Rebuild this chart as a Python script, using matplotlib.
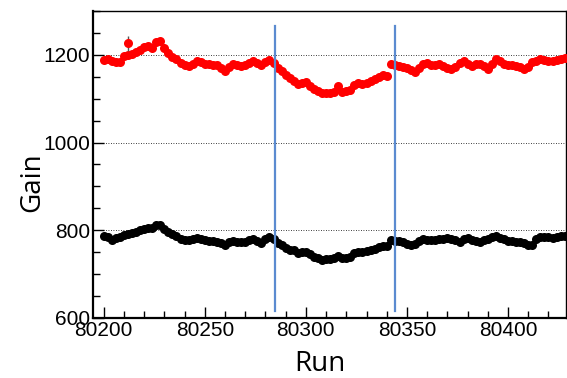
import numpy as np
import matplotlib
matplotlib.use("Agg")
import matplotlib.pyplot as plt
from matplotlib.ticker import MultipleLocator

runs = np.arange(80200, 80430, 2)

gain_red = [
    1188, 1190, 1185, 1184, 1183, 1197, 1199, 1202, 1207, 1212,
    1218, 1219, 1216, 1230, 1232, 1215, 1205, 1196, 1190, 1182,
    1176, 1175, 1178, 1186, 1184, 1180, 1178, 1177, 1176, 1170,
    1162, 1172, 1178, 1177, 1174, 1176, 1181, 1185, 1182, 1176,
    1184, 1189, 1182, 1170, 1163, 1153, 1147, 1140, 1133, 1136,
    1137, 1130, 1122, 1118, 1114, 1112, 1114, 1116, 1130, 1116,
    1117, 1120, 1132, 1135, 1134, 1136, 1140, 1144, 1150, 1154,
    1152, 1179, 1176, 1175, 1172, 1169, 1165, 1161, 1170, 1180,
    1181, 1176, 1176, 1178, 1175, 1170, 1167, 1172, 1182, 1187,
    1179, 1174, 1178, 1180, 1175, 1168, 1180, 1191, 1186, 1179,
    1177, 1176, 1174, 1173, 1168, 1172, 1184, 1187, 1190, 1189,
    1186, 1185, 1188, 1190, 1192,
]

gain_black = [
    786, 784, 778, 782, 785, 788, 791, 793, 797, 800,
    803, 806, 805, 812, 813, 803, 797, 791, 787, 781,
    778, 777, 780, 782, 780, 777, 776, 775, 774, 771,
    766, 772, 776, 774, 772, 774, 777, 779, 775, 771,
    779, 784, 779, 771, 767, 760, 755, 754, 748, 751,
    750, 746, 740, 736, 733, 734, 735, 737, 741, 736,
    737, 739, 749, 751, 750, 752, 755, 758, 762, 764,
    765, 778, 775, 775, 772, 769, 766, 768, 776, 779,
    778, 777, 778, 779, 781, 782, 781, 777, 774, 779,
    782, 778, 776, 774, 778, 781, 784, 787, 783, 779,
    776, 775, 774, 772, 770, 767, 766, 781, 785, 785,
    784, 783, 785, 786, 787,
]

outlier_run = [80212]
outlier_gain = [1226]
outlier_err = [18]

vline_runs = [80284.5, 80344.2]
vline_span = (615, 1265)

fig = plt.figure(figsize=(5.67, 3.78), dpi=100)
ax = fig.add_axes([0.164, 0.159, 0.834, 0.812])

ax.plot(runs, gain_red, 'o', color='#ff0000', markersize=6.5, markeredgewidth=0, zorder=3)
ax.plot(runs, gain_black, 'o', color='black', markersize=6.5, markeredgewidth=0, zorder=3)
ax.errorbar(outlier_run, outlier_gain, yerr=outlier_err, fmt='o', color='#ff0000',
            ecolor='#555555', elinewidth=1, capsize=2, markersize=6.5,
            markeredgewidth=0, zorder=4)

for xv in vline_runs:
    ax.plot([xv, xv], vline_span, color='#5b8bd0', linewidth=1.6, zorder=5)

ax.set_xlim(80194.7, 80428.6)
ax.set_ylim(600, 1300)

ax.xaxis.set_major_locator(MultipleLocator(50))
ax.xaxis.set_minor_locator(MultipleLocator(10))
ax.yaxis.set_major_locator(MultipleLocator(200))
ax.yaxis.set_minor_locator(MultipleLocator(50))

for y in [800, 1000, 1200]:
    ax.axhline(y, color='black', linestyle=(0, (1, 2)), linewidth=0.6, zorder=1)

ax.tick_params(axis='both', which='both', direction='in', top=False, right=False)
ax.tick_params(axis='both', which='major', length=8, width=1, labelsize=15)
ax.tick_params(axis='both', which='minor', length=5, width=1)
ax.tick_params(axis='x', which='major', pad=2)
ax.tick_params(axis='y', which='major', pad=2)

for lab in ax.get_xticklabels() + ax.get_yticklabels():
    lab.set_fontfamily('Liberation Sans')

for s in ['left', 'bottom']:
    ax.spines[s].set_linewidth(1.6)
for s in ['top', 'right']:
    ax.spines[s].set_linewidth(1.0)

ax.set_xlabel('Run', fontsize=20, fontfamily='Open Sans')
ax.set_ylabel('Gain', fontsize=20, fontfamily='Open Sans')
ax.xaxis.set_label_coords(0.479, -0.104)
ax.yaxis.set_label_coords(-0.099, 0.443)

fig.savefig('out.png', dpi=100)
